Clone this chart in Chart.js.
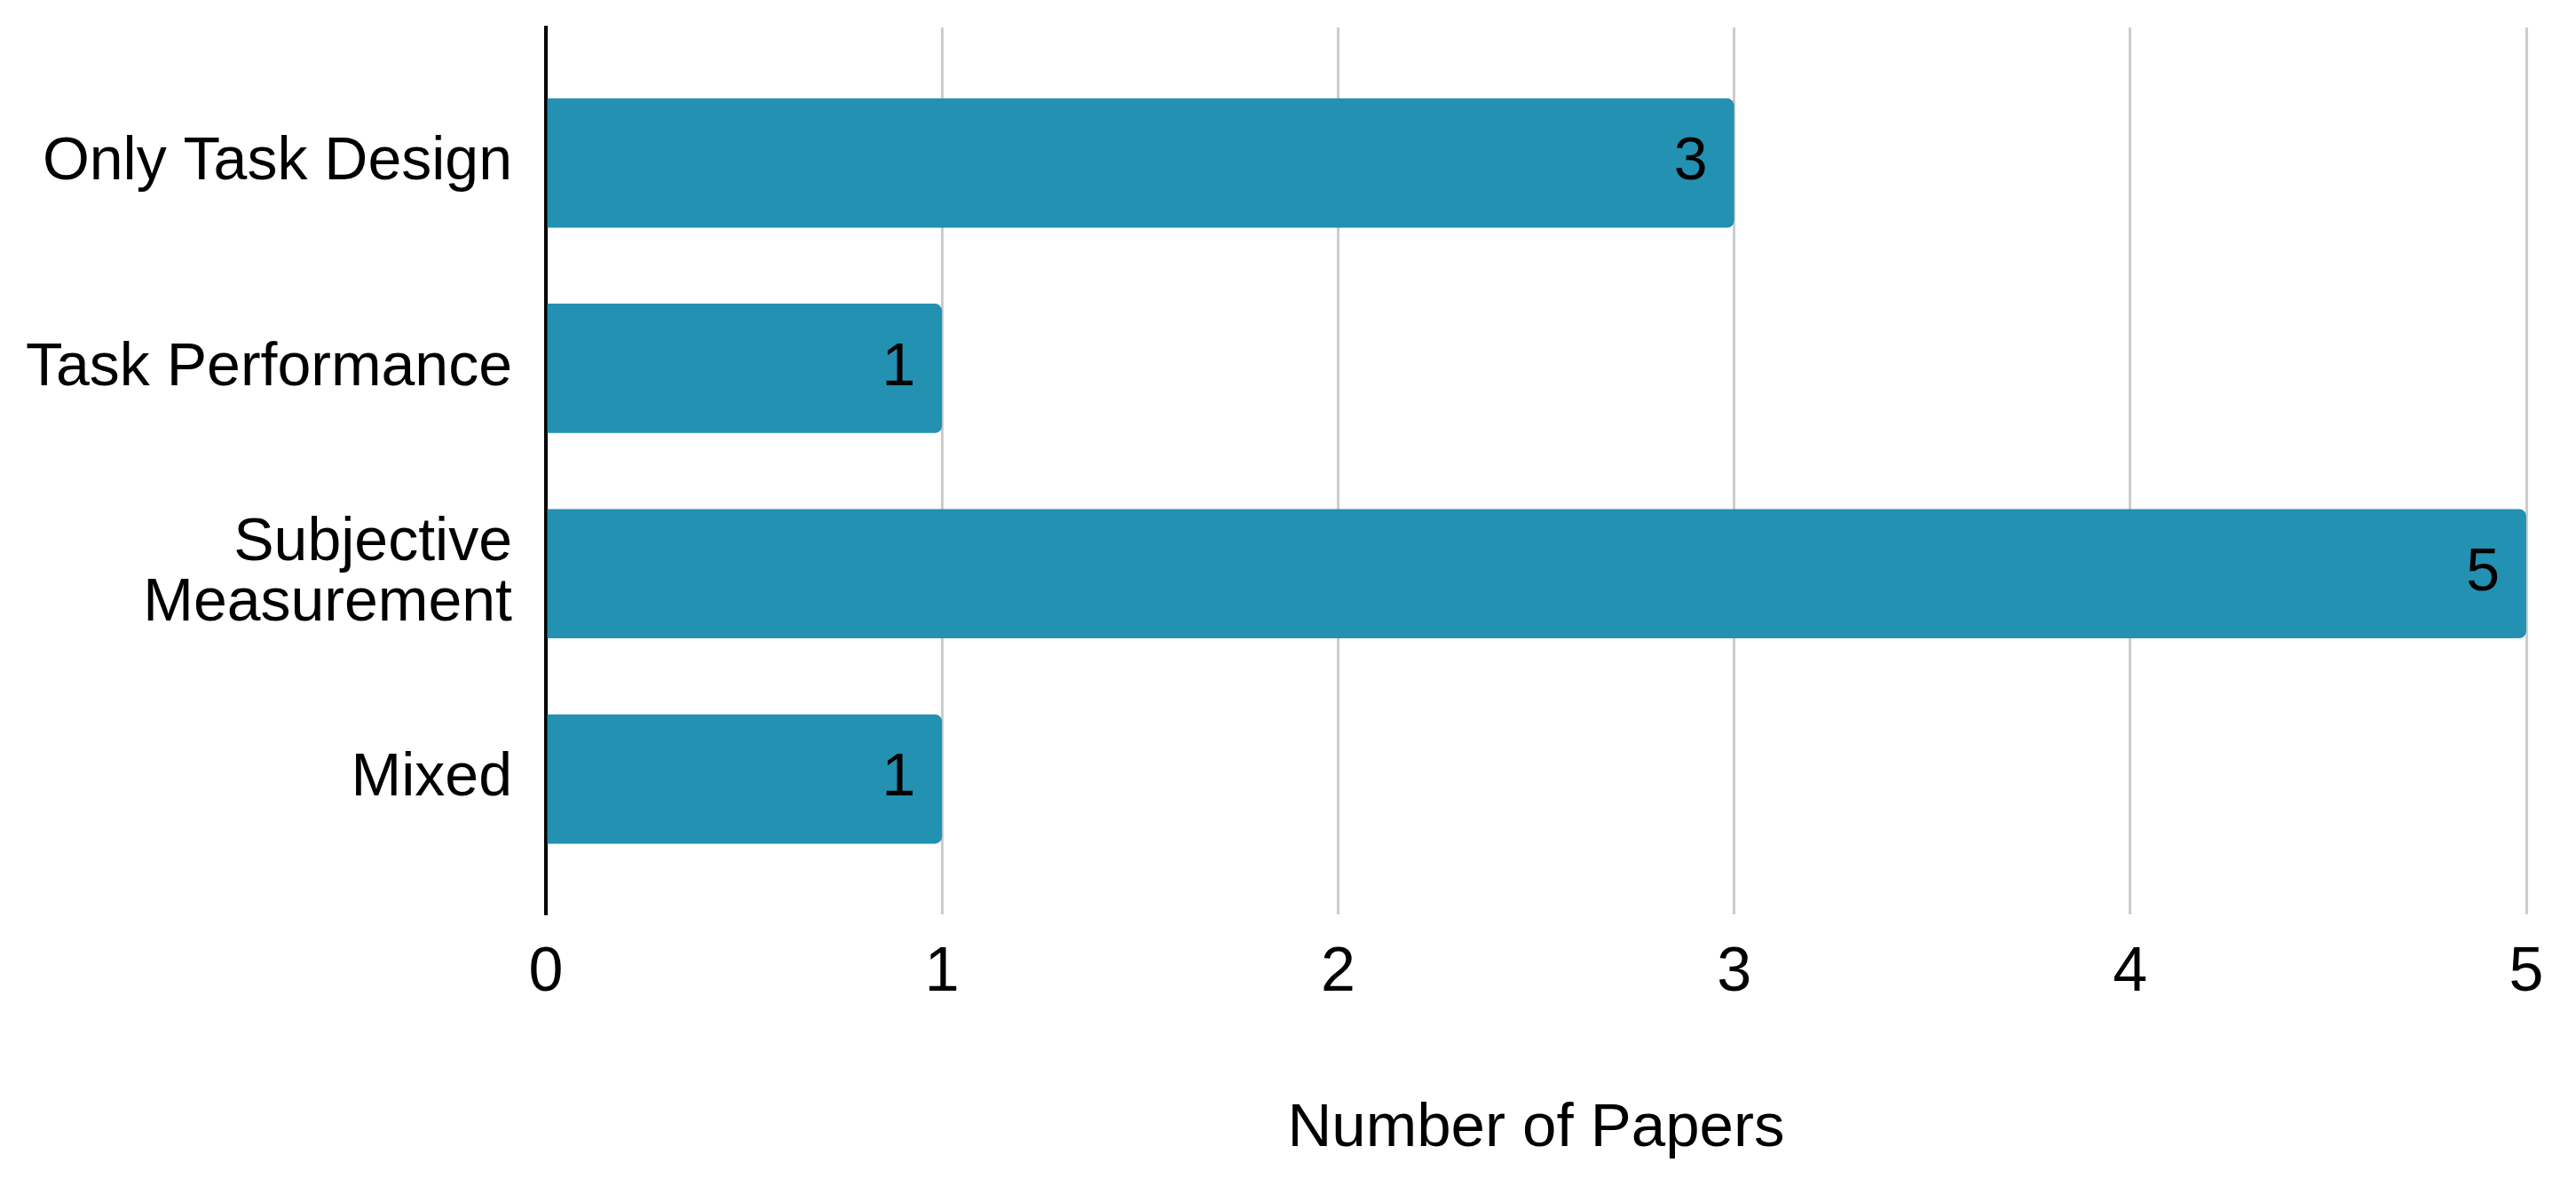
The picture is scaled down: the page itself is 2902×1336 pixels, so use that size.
<!DOCTYPE html>
<html>
<head>
<meta charset="utf-8">
<script src="https://cdn.jsdelivr.net/npm/chart.js@4"></script>
<style>
  html, body { margin: 0; padding: 0; background: #fff; }
  #wrap { width: 2902px; height: 1336px; }
</style>
</head>
<body>
<div id="wrap"><canvas id="barChart"></canvas></div>
<script>
// data
var categories = ["Only Task Design", "Task Performance", ["Subjective", "Measurement"], "Mixed"];
var paperCounts = [3, 1, 5, 1];
var xTicks = [0, 1, 2, 3, 4, 5];

// value labels drawn inside the end of each bar
var barValueLabels = {
  id: 'barValueLabels',
  afterDatasetsDraw: function(chart) {
    var ctx = chart.ctx;
    var meta = chart.getDatasetMeta(0);
    ctx.save();
    ctx.font = '68px "Liberation Sans", Arial, sans-serif';
    ctx.fillStyle = '#000';
    ctx.textAlign = 'right';
    ctx.textBaseline = 'middle';
    meta.data.forEach(function(bar, i) {
      ctx.fillText(String(paperCounts[i]), bar.x - 30, bar.y);
    });
    ctx.restore();
  }
};

var ctx = document.getElementById("barChart").getContext('2d');
var myBarChart = new Chart(ctx, {
  type: 'bar',
  data: {
    datasets: [{
      label: "Number of Papers",
      data: paperCounts.map(function(v, i) { return {x: v, y: i}; }),
      backgroundColor: '#2391b1',
      borderRadius: 8,
      borderSkipped: 'start',
      barPercentage: 0.63,
      categoryPercentage: 1
    }]
  },
  options: {
    indexAxis: 'y',
    responsive: true,
    maintainAspectRatio: false,
    animation: false,
    layout: { padding: { left: 0, right: 56, top: 31, bottom: 20 } },
    plugins: {
      legend: { display: false },
      tooltip: { enabled: false }
    },
    scales: {
      x: {
        type: 'linear',
        min: xTicks[0],
        max: xTicks[xTicks.length - 1],
        afterBuildTicks: function(axis) {
          axis.ticks = xTicks.map(function(v) { return {value: v}; });
        },
        grid: { color: '#cccccc', lineWidth: 3, drawTicks: false },
        border: { display: false },
        ticks: {
          padding: 25,
          color: '#000',
          font: { family: '"Liberation Sans", Arial, sans-serif', size: 70 }
        },
        title: {
          display: true,
          text: 'Number of Papers',
          color: '#000',
          padding: { top: 66, bottom: 3 },
          font: { family: '"Liberation Sans", Arial, sans-serif', size: 69 }
        }
      },
      y: {
        type: 'linear',
        reverse: true,
        offset: false,
        min: -0.66,
        max: 3.66,
        afterBuildTicks: function(axis) {
          axis.ticks = categories.map(function(c, i) { return {value: i}; });
        },
        afterFit: function(scale) {
          scale.paddingTop = 0;
          scale.paddingBottom = 0;
          scale.width = 615;
        },
        grid: { display: false },
        border: { display: true, color: '#000', width: 4 },
        ticks: {
          padding: 30,
          color: '#000',
          font: { family: '"Liberation Sans", Arial, sans-serif', size: 68, lineHeight: 1.0 },
          callback: function(value) { return categories[value]; }
        }
      }
    }
  },
  plugins: [barValueLabels]
});
</script>
</body>
</html>
